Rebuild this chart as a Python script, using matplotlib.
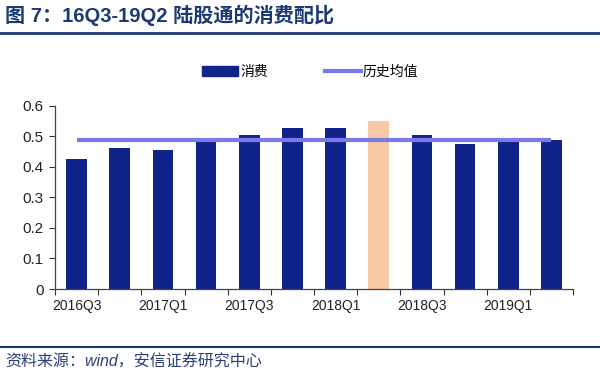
import matplotlib
matplotlib.use("Agg")
import matplotlib.pyplot as plt
from matplotlib.lines import Line2D
from matplotlib.patches import Patch

plt.rcParams['font.family'] = ['Liberation Sans', 'Noto Sans CJK SC', 'DejaVu Sans']

categories = ['2016Q3', '2016Q4', '2017Q1', '2017Q2', '2017Q3', '2017Q4',
              '2018Q1', '2018Q2', '2018Q3', '2018Q4', '2019Q1', '2019Q2']
consumption = [0.425, 0.461, 0.455, 0.485, 0.503, 0.526, 0.526, 0.551, 0.503, 0.473, 0.486, 0.489]
hist_avg = [0.487] * len(categories)
highlight_idx = 7

title = '图 7：16Q3-19Q2 陆股通的消费配比'
source = '资料来源：wind，安信证券研究中心'
legend_labels = ['消费', '历史均值']

navy = '#0F238A'
peach = '#F8C9A6'
avg_color = '#7B78EA'
title_color = '#1B3A73'

fig = plt.figure(figsize=(6.0, 3.78), dpi=100)
ax = fig.add_axes([0.0917, 0.2354, 0.8633, 0.485])

x = list(range(len(categories)))
colors = [peach if i == highlight_idx else navy for i in x]
ax.bar(x, consumption, width=0.48, color=colors, zorder=2)
ax.plot(x, hist_avg, color=avg_color, lw=3, zorder=3, solid_capstyle='butt')

ax.set_xlim(-0.5, len(categories) - 0.5)
ax.set_ylim(0, 0.6)
ax.set_yticks([0, 0.1, 0.2, 0.3, 0.4, 0.5, 0.6])
ax.set_yticklabels(['0', '0.1', '0.2', '0.3', '0.4', '0.5', '0.6'])

# boundary ticks
ax.set_xticks([i + 0.5 for i in range(-1, len(categories))])
ax.set_xticklabels([])
ax.set_xticks(x[::2], [categories[i] for i in x[::2]], minor=True)
ax.tick_params(axis='x', which='major', direction='out', length=4, color='#333333', width=0.8)
ax.tick_params(axis='x', which='minor', length=0, labelsize=10, pad=7, labelcolor='#222222')
ax.tick_params(axis='y', direction='out', length=4, color='#333333', width=0.8,
               labelsize=11, labelcolor='#222222', pad=4)

for s in ['top', 'right']:
    ax.spines[s].set_visible(False)
for s in ['left', 'bottom']:
    ax.spines[s].set_color('#444444')
    ax.spines[s].set_linewidth(0.9)

handles = [Patch(facecolor=navy, edgecolor=navy),
           Line2D([0], [0], color=avg_color, lw=3)]
leg = fig.legend(handles, legend_labels, loc='center', bbox_to_anchor=(0.517, 0.81),
                 ncol=2, frameon=False, fontsize=10, handlelength=2.6, handleheight=0.8,
                 handletextpad=0.15, columnspacing=4.1)

fig.text(0.008, 1 - 15 / 378, title, fontsize=14.5, fontweight='bold', color=title_color,
         va='center', ha='left')
fig.add_artist(Line2D([0, 1], [1 - 32.5 / 378] * 2, color=title_color, lw=2))
fig.add_artist(Line2D([0, 1], [1 - 347 / 378] * 2, color=title_color, lw=1.5))
fig.text(0.008, 1 - 362 / 378, source, fontsize=11.5, style='italic', color='#2B3F7A',
         va='center', ha='left')

fig.savefig('out.png', dpi=100)
